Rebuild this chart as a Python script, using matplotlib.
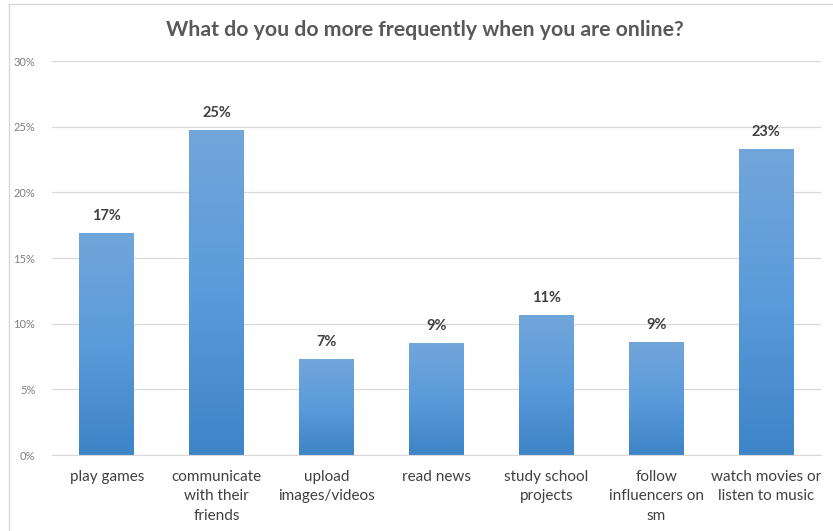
import numpy as np
import matplotlib.pyplot as plt
from matplotlib.colors import LinearSegmentedColormap
from matplotlib.lines import Line2D

plt.rcParams['font.family'] = ['Lato', 'DejaVu Sans']

# Survey data
categories = ["play games", "communicate\nwith their\nfriends", "upload\nimages/videos",
              "read news", "study school\nprojects", "follow\ninfluencers on\nsm",
              "watch movies or\nlisten to music"]
shares = [16.9, 24.75, 7.3, 8.55, 10.7, 8.6, 23.3]
y_ticks = [0, 5, 10, 15, 20, 25, 30]
y_tick_labels = [f"{t}%" for t in y_ticks]

fig = plt.figure(figsize=(8.33, 5.31), dpi=100)
ax = fig.add_axes([0.0624, 0.1431, 0.9232, 0.7419])

x = np.arange(len(categories))
bars = ax.bar(x, shares, width=0.5, color="none", edgecolor="none", zorder=2)

# vertical gradient fill for each bar
grad = LinearSegmentedColormap.from_list("bar", ["#3e84c6", "#5a9bdb", "#72a6da"])
img = np.linspace(0, 1, 256).reshape(-1, 1)
for b in bars:
    x0, y0 = b.get_x(), b.get_y()
    w, h = b.get_width(), b.get_height()
    im = ax.imshow(img, cmap=grad, origin="lower", aspect="auto",
                   extent=[x0, x0 + w, y0, y0 + h], zorder=2)
    im.set_clip_path(b)
    ax.text(x0 + w / 2, h + 0.75, f"{round(h):.0f}%", ha="center", va="bottom",
            fontsize=10.5, fontweight="bold", color="#404040", zorder=3)

ax.set_xlim(-0.5, len(categories) - 0.5)
ax.set_ylim(0, 30)
ax.set_yticks(y_ticks)
ax.set_yticklabels(y_tick_labels)
ax.set_xticks(x)
ax.set_xticklabels(categories, fontsize=11, color="#404040", linespacing=1.52)
ax.tick_params(axis="y", length=0, labelsize=8, labelcolor="#7f7f7f", pad=12)
ax.tick_params(axis="x", length=0, pad=10.5)
ax.grid(axis="y", color="#d9d9d9", linewidth=0.9, zorder=0)
ax.set_axisbelow(True)
for s in ["top", "right", "left"]:
    ax.spines[s].set_visible(False)
ax.spines["bottom"].set_color("#d9d9d9")

fig.text(0.51, 0.943, "What do you do more frequently when you are online?",
         ha="center", va="center", fontsize=15.3, fontweight="bold", color="#595959")

# chart frame on the left and top
fig.add_artist(Line2D([9 / 833, 9 / 833], [0, 1 - 4 / 531], color="#d9d9d9", linewidth=1))
fig.add_artist(Line2D([9 / 833, 1], [1 - 4 / 531, 1 - 4 / 531], color="#d9d9d9", linewidth=1))

fig.savefig("out.png", dpi=100)
